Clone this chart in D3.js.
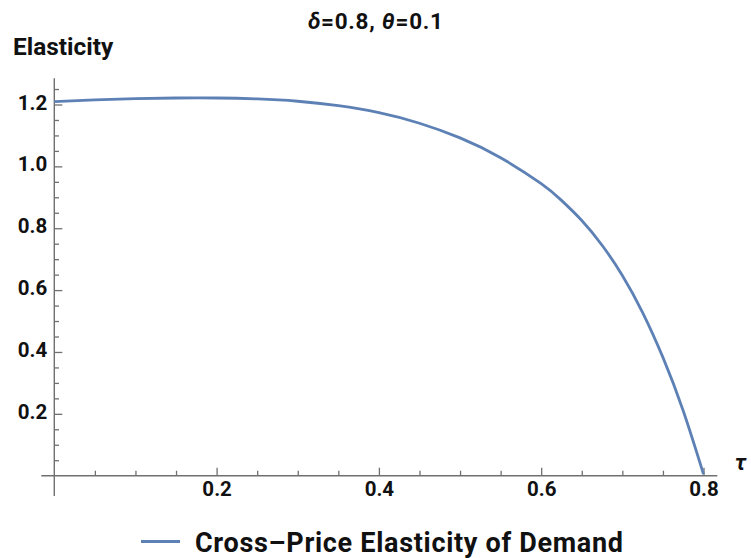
<!DOCTYPE html>
<html>
<head>
<meta charset="utf-8">
<script src="https://cdn.jsdelivr.net/npm/d3@7"></script>
<style>
  html, body { margin: 0; padding: 0; background: #fff; }
  svg { display: block; font-family: Roboto, "Liberation Sans", sans-serif; }
</style>
</head>
<body>
<svg id="chart" width="751" height="558"></svg>
<script>
// Cross-price elasticity of demand as a function of tau (delta = 0.8, theta = 0.1)
const tau = [0, 0.05, 0.1, 0.15, 0.2, 0.25, 0.3, 0.35, 0.4, 0.45, 0.5, 0.55,
             0.6, 0.625, 0.65, 0.675, 0.7, 0.725, 0.75, 0.775, 0.8];
const elasticity = [1.209, 1.215, 1.219, 1.221, 1.221, 1.218, 1.2105, 1.196, 1.1735,
                    1.1395, 1.092, 1.028, 0.944, 0.890, 0.825, 0.745, 0.6475, 0.5275,
                    0.3825, 0.210, 0.005];
const xMajorTicks = [0.2, 0.4, 0.6, 0.8];
const yMajorTicks = [0.2, 0.4, 0.6, 0.8, 1.0, 1.2];
const seriesName = "Cross\u2013Price Elasticity of Demand";

const svg = d3.select("#chart");
const axisColor = "#707070";
const lineColor = "#5e81b5";

const x = d3.scaleLinear().domain([0, 0.8]).range([54.3, 703.5]);
const y = d3.scaleLinear().domain([0, 1.2]).range([475.7, 104.5]);

// minor ticks every 0.05
const xMinor = d3.range(1, 16).map(i => +(i * 0.05).toFixed(2)).filter(v => !xMajorTicks.some(m => Math.abs(m - v) < 1e-9));
const yMinor = d3.range(1, 26).map(i => +(i * 0.05).toFixed(2)).filter(v => !yMajorTicks.some(m => Math.abs(m - v) < 1e-9));

// axis lines
svg.append("line").attr("x1", x(0)).attr("x2", x(0))
  .attr("y1", y(1.285)).attr("y2", y(-0.066))
  .attr("stroke", axisColor).attr("stroke-width", 1.4);
svg.append("line").attr("x1", x(-0.016)).attr("x2", x(0.817))
  .attr("y1", y(0)).attr("y2", y(0))
  .attr("stroke", axisColor).attr("stroke-width", 1.4);

function styleAxis(g) {
  g.select(".domain").remove();
  g.selectAll(".tick line").attr("stroke", axisColor).attr("stroke-width", 1.3);
  g.selectAll(".tick text")
    .attr("fill", "#111").attr("font-size", 20.5).attr("font-weight", "bold")
    .attr("font-family", "Roboto, sans-serif");
}

// y axis (ticks pointing into the plot)
svg.append("g").attr("transform", `translate(${x(0)},0)`)
  .call(d3.axisLeft(y).tickValues(yMinor).tickSize(-4.7).tickFormat(""))
  .call(styleAxis);
svg.append("g").attr("transform", `translate(${x(0)},0)`)
  .call(d3.axisLeft(y).tickValues(yMajorTicks).tickSize(-8).tickPadding(7).tickFormat(d3.format(".1f")))
  .call(styleAxis)
  .call(g => g.selectAll(".tick text").attr("dy", "0.22em"));

// x axis
svg.append("g").attr("transform", `translate(0,${y(0)})`)
  .call(d3.axisBottom(x).tickValues(xMinor).tickSize(-5).tickFormat(""))
  .call(styleAxis);
svg.append("g").attr("transform", `translate(0,${y(0)})`)
  .call(d3.axisBottom(x).tickValues(xMajorTicks).tickSize(-8).tickPadding(6).tickFormat(d3.format(".1f")))
  .call(styleAxis);

// curve
const line = d3.line().x((d, i) => x(tau[i])).y(d => y(d)).curve(d3.curveNatural);
svg.append("path").datum(elasticity)
  .attr("d", line)
  .attr("fill", "none")
  .attr("stroke", lineColor)
  .attr("stroke-width", 2.8)
  .attr("stroke-linejoin", "round");

// title
const title = svg.append("text").attr("x", 308).attr("y", 29)
  .attr("font-size", 22.5).attr("font-weight", "bold").attr("fill", "#111")
  .attr("textLength", 135).attr("lengthAdjust", "spacing");
title.append("tspan").attr("font-style", "italic").text("\u03b4");
title.append("tspan").text("=0.8, ");
title.append("tspan").attr("font-style", "italic").text("\u03b8");
title.append("tspan").text("=0.1");

// axis labels
svg.append("text").attr("x", 13).attr("y", 55)
  .attr("font-size", 24.4).attr("font-weight", "bold").attr("fill", "#111")
  .text("Elasticity");
svg.append("text").attr("x", 735).attr("y", 470)
  .attr("font-size", 22).attr("font-weight", "bold").attr("font-style", "italic").attr("fill", "#111")
  .text("\u03c4");

// legend
svg.append("line").attr("x1", 141).attr("x2", 180).attr("y1", 541.5).attr("y2", 541.5)
  .attr("stroke", lineColor).attr("stroke-width", 2.8);
svg.append("text").attr("x", 195).attr("y", 552)
  .attr("font-size", 27).attr("font-weight", "bold").attr("fill", "#111")
  .attr("textLength", 428).attr("lengthAdjust", "spacing")
  .text(seriesName);
</script>
</body>
</html>
